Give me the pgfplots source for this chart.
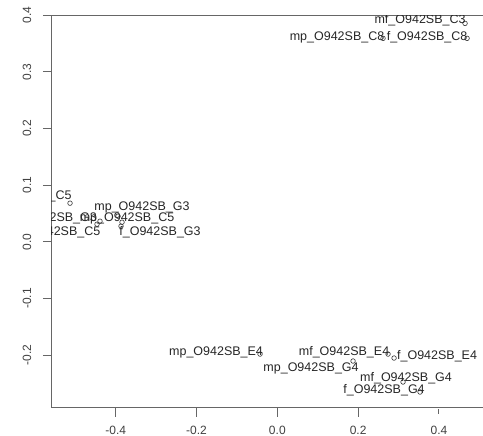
\documentclass[border=0pt]{standalone}
\usepackage{fontspec}
\setmainfont{Liberation Sans}
\usepackage{pgfplots}
\pgfplotsset{compat=1.18}
\begin{document}
\begin{tikzpicture}
\begin{axis}[
  at={(0,0)}, anchor=south west,
  scale only axis, width=431pt, height=393pt,
  xmin=-0.5577, xmax=0.509, ymin=-0.2933, ymax=0.4005,
  axis x line=box, axis y line=left,
  x axis line style={-}, y axis line style={-},
  axis line style={black!60, line width=1pt},
  xtick={-0.4,-0.2,0,0.2,0.4},
  ytick={-0.2,-0.1,0,0.1,0.2,0.3,0.4},
  xtick pos=lower, ytick pos=left,
  tick align=outside, major tick length=9pt,
  tick style={black!60, line width=1pt},
  x tick style={shorten <=3pt, shorten >=1pt},
  xticklabel style={anchor=center, yshift=-13pt},
  yticklabel style={rotate=90, anchor=center, yshift=16pt},
  tick label style={font=\fontsize{12}{14}\selectfont, text=black!75},
  clip mode=individual, clip marker paths=true,
  /pgf/number format/.cd, fixed, fixed zerofill, precision=1, assume math mode=true,
]
% sample scores with their names; dx/dy place each name beside its point
\addplot[only marks, mark=o, mark size=2.3pt,
  mark options={black!80, line width=0.6pt},
  point meta=explicit symbolic,
  visualization depends on={value \thisrow{dx}\as\dx},
  visualization depends on={value \thisrow{dy}\as\dy},
  nodes near coords,
  nodes near coords style={anchor=center, inner sep=0pt,
    xshift=\dx pt, yshift=\dy pt,
    font=\fontsize{12.5}{14}\selectfont, text=black!85},
] table[x=x, y=y, meta=name] {
x        y        dx   dy  name
0.4646   0.3857   -45   3  mf\_O942SB\_C3
0.2616   0.3593   -46   1  mp\_O942SB\_C8
0.4696   0.3593   -40   1  f\_O942SB\_C8
-0.5131  0.0683   -44   7  mf\_O942SB\_C5
-0.3844  0.0347     5   4  mp\_O942SB\_C5
-0.4463  0.0312   -37  -8  f\_O942SB\_C5
-0.4389  0.0365   -49   3  mf\_O942SB\_G3
-0.3943  0.0453    24   9  mp\_O942SB\_G3
-0.3869  0.0277    39  -6  f\_O942SB\_G3
-0.0428  -0.1981  -44   2  mp\_O942SB\_E4
0.2740   -0.1981  -44   2  mf\_O942SB\_E4
0.2889   -0.2051   43   2  f\_O942SB\_E4
0.1874   -0.2104  -42  -7  mp\_O942SB\_G4
0.3111   -0.2474    3   4  mf\_O942SB\_G4
0.3532   -0.2651  -36   2  f\_O942SB\_G4
};
\end{axis}
\pgfresetboundingbox
\path (-52pt,-28pt) rectangle (431pt,408pt);
\end{tikzpicture}
\end{document}
